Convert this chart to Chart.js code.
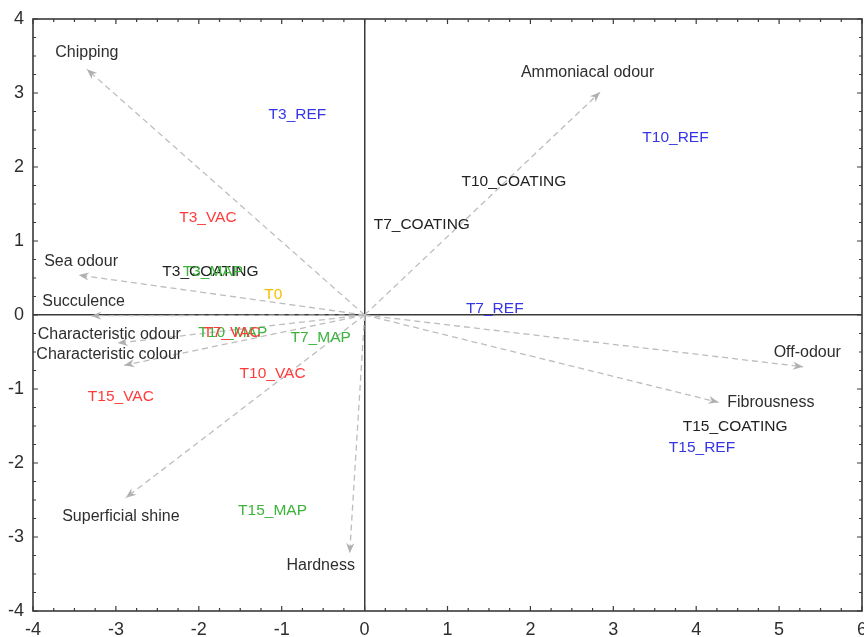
<!DOCTYPE html>
<html><head><meta charset="utf-8">
<script src="https://cdn.jsdelivr.net/npm/chart.js"></script>
<style>html,body{margin:0;padding:0;background:#fff}#wrap{width:864px;height:637px}</style>
</head><body><div id="wrap"><canvas id="c" width="864" height="637"></canvas></div>
<script>
// Variable vectors (loadings)
const varNames = ["Chipping","Ammoniacal odour","Sea odour","Succulence","Characteristic odour","Characteristic colour","Superficial shine","Hardness","Off-odour","Fibrousness"];
const varX = [-3.35, 2.84, -3.45, -3.30, -2.98, -2.90, -2.88, -0.18, 5.29, 4.27];
const varY = [3.32, 3.01, 0.54, -0.01, -0.38, -0.68, -2.47, -3.22, -0.70, -1.18];
const varLabelX = [-3.35, 2.69, -3.42, -3.39, -3.08, -3.08, -2.94, -0.53, 5.34, 4.90];
const varLabelY = [3.54, 3.28, 0.72, 0.18, -0.27, -0.53, -2.73, -3.38, -0.51, -1.18];

// Observations (scores)
const obsNames = ["T3_REF","T10_REF","T10_COATING","T7_COATING","T3_VAC","T3_COATING","T3_MAP","T0","T7_REF","T10_MAP","T7_VAC","T7_MAP","T10_VAC","T15_VAC","T15_MAP","T15_COATING","T15_REF"];
const obsX = [-0.81, 3.75, 1.80, 0.69, -1.89, -1.86, -1.83, -1.10, 1.57, -1.59, -1.60, -0.53, -1.11, -2.94, -1.11, 4.47, 4.07];
const obsY = [2.70, 2.39, 1.80, 1.22, 1.32, 0.58, 0.58, 0.28, 0.08, -0.24, -0.24, -0.31, -0.80, -1.11, -2.65, -1.51, -1.80];
const obsGroup = ["REF","REF","COATING","COATING","VAC","COATING","MAP","T0","REF","MAP","VAC","MAP","VAC","VAC","MAP","COATING","REF"];

const xTicks = [-4,-3,-2,-1,0,1,2,3,4,5,6];
const yTicks = [-4,-3,-2,-1,0,1,2,3,4];

const groupColor = {REF:"#3535e8", COATING:"#222222", VAC:"#ff3c3c", MAP:"#3cb43c", T0:"#f5c000"};
const FONT = '"Liberation Sans", Arial, sans-serif';

const datasets = varNames.map((n,i)=>({
  type:'line', label:n,
  data:[{x:0,y:0},{x:varX[i],y:varY[i]}],
  borderColor:'#bdbdbd', borderWidth:1.3, borderDash:[6,4],
  pointRadius:0, fill:false, tension:0
}));
datasets.push({
  type:'scatter', label:'obs',
  data: obsNames.map((n,i)=>({x:obsX[i],y:obsY[i]})),
  pointRadius:0
});

const biplot = {
  id:'biplot',
  afterDatasetsDraw(chart){
    const {ctx, scales:{x,y}} = chart;
    const ox = x.getPixelForValue(0), oy = y.getPixelForValue(0);
    ctx.save();
    varNames.forEach((n,i)=>{
      const tx = x.getPixelForValue(varX[i]), ty = y.getPixelForValue(varY[i]);
      const a = Math.atan2(ty-oy, tx-ox);
      const L = 11, W = 0.38;
      ctx.beginPath();
      ctx.moveTo(tx,ty);
      ctx.lineTo(tx - L*Math.cos(a-W), ty - L*Math.sin(a-W));
      ctx.lineTo(tx - 7*Math.cos(a), ty - 7*Math.sin(a));
      ctx.lineTo(tx - L*Math.cos(a+W), ty - L*Math.sin(a+W));
      ctx.closePath();
      ctx.fillStyle = '#b0b0b0';
      ctx.fill();
    });
    ctx.textAlign = 'center';
    ctx.textBaseline = 'middle';
    ctx.font = '16px ' + FONT;
    varNames.forEach((n,i)=>{
      ctx.fillStyle = '#2e2e2e';
      ctx.fillText(n, x.getPixelForValue(varLabelX[i]), y.getPixelForValue(varLabelY[i]));
    });
    ctx.font = '15.5px ' + FONT;
    obsNames.forEach((n,i)=>{
      ctx.fillStyle = groupColor[obsGroup[i]];
      ctx.fillText(n, x.getPixelForValue(obsX[i]), y.getPixelForValue(obsY[i]));
    });
    ctx.restore();
  },
  afterDraw(chart){
    const {ctx, chartArea:ca, scales:{x,y}} = chart;
    ctx.save();
    ctx.strokeStyle = '#3a3a3a';
    ctx.lineWidth = 1.2;
    ctx.beginPath();
    for (let v = x.min; v <= x.max + 1e-9; v += 0.25) {
      const px = x.getPixelForValue(v);
      const len = Math.abs(v - Math.round(v)) < 1e-6 ? 5 : 3;
      ctx.moveTo(px, ca.bottom); ctx.lineTo(px, ca.bottom - len);
      ctx.moveTo(px, ca.top); ctx.lineTo(px, ca.top + len);
    }
    for (let v = y.min; v <= y.max + 1e-9; v += 0.25) {
      const py = y.getPixelForValue(v);
      const len = Math.abs(v - Math.round(v)) < 1e-6 ? 5 : 3;
      ctx.moveTo(ca.left, py); ctx.lineTo(ca.left + len, py);
      ctx.moveTo(ca.right, py); ctx.lineTo(ca.right - len, py);
    }
    ctx.stroke();
    ctx.lineWidth = 1.6;
    ctx.strokeRect(ca.left, ca.top, ca.right - ca.left, ca.bottom - ca.top);
    ctx.restore();
  }
};

new Chart(document.getElementById('c'), {
  type:'scatter',
  data:{datasets},
  options:{
    responsive:false, animation:false, devicePixelRatio:1,
    layout:{padding:{left:0, top:19, right:2, bottom:0}},
    plugins:{legend:{display:false}, tooltip:{enabled:false}},
    scales:{
      x:{
        type:'linear', min:-4, max:6,
        afterBuildTicks(s){ s.ticks = xTicks.map(v=>({value:v})); },
        afterFit(s){ s.height = 26; s.paddingLeft = 0; s.paddingRight = 0; },
        grid:{drawTicks:false, color:c=>c.tick && c.tick.value===0 ? '#3a3a3a' : 'rgba(0,0,0,0)', lineWidth:1.5},
        border:{display:false},
        ticks:{padding:8, color:'#2e2e2e', font:{family:FONT, size:18}, maxRotation:0, autoSkip:false}
      },
      y:{
        type:'linear', min:-4, max:4,
        afterBuildTicks(s){ s.ticks = yTicks.map(v=>({value:v})); },
        afterFit(s){ s.width = 33; s.paddingTop = 0; s.paddingBottom = 0; },
        grid:{drawTicks:false, color:c=>c.tick && c.tick.value===0 ? '#3a3a3a' : 'rgba(0,0,0,0)', lineWidth:1.5},
        border:{display:false},
        ticks:{padding:9, color:'#2e2e2e', font:{family:FONT, size:18}, autoSkip:false}
      }
    }
  },
  plugins:[biplot]
});
</script>
</body></html>
